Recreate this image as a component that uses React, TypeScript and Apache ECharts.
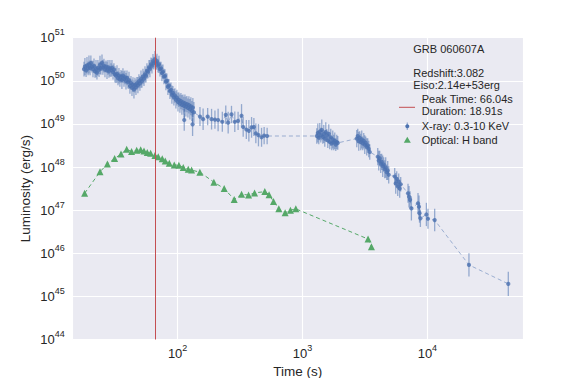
import React, { useEffect, useRef } from 'react';
import * as echarts from 'echarts';

const FONT = '"Liberation Sans", Arial, Helvetica, sans-serif';
const TEXT = '#262626';
const BLUE = '#4C72B0';
const GREEN = '#55A868';
const RED = '#C44E52';

const grbName = 'GRB 060607A';
const redshift = 3.082;
const eisoText = '2.14e+53erg';
const peakTime = 66.04;
const duration = 18.91;

// X-ray (0.3-10 keV): time (s), log10 luminosity (erg/s), 1-sigma error (dex)
const xrayTime = [
  17.8, 18.1, 18.5, 18.8, 19.2, 19.5, 19.9, 20.2, 20.6, 21.0,
  21.4, 21.8, 22.2, 22.6, 23.0, 23.5, 23.9, 24.3, 24.8, 25.2,
  25.7, 26.2, 26.7, 27.2, 27.7, 28.2, 28.7, 29.3, 29.8, 30.4,
  30.9, 31.5, 32.1, 32.7, 33.3, 33.9, 34.5, 35.2, 35.8, 36.5,
  37.2, 37.9, 38.6, 39.3, 40.0, 40.8, 41.5, 42.3, 43.1, 43.9,
  44.7, 45.5, 46.4, 47.2, 48.1, 49.0, 49.9, 50.9, 51.8, 52.8,
  53.8, 54.8, 55.8, 56.8, 57.9, 59.0, 60.0, 61.2, 62.3, 63.5,
  64.6, 65.9, 67.1, 68.3, 69.6, 70.9, 72.2, 73.6, 74.9, 76.3,
  77.7, 79.2, 80.6, 82.1, 83.6, 85.2, 86.8, 88.4, 90.0, 91.7,
  93.4, 95.1, 96.9, 98.7, 100.6, 102.4, 104.3, 106.3, 108.2, 110.3,
  112.3, 113.0, 114.4, 116.5, 118.7, 120.9, 123.1, 125.4, 127.7, 130.1,
  131.8, 132.5, 135.0,
  151, 160, 174, 187, 199, 211, 228, 243, 254, 270, 287, 305, 325, 335, 355, 372, 391, 408, 423, 444, 470, 493, 521,
  1301, 1326, 1350, 1375, 1401, 1427, 1453, 1480, 1508, 1536, 1564, 1594, 1623, 1653, 1684, 1715, 1747, 1780, 1813, 1847, 1881, 1916,
  2719, 2770, 2821, 2873, 2927, 2981, 3037, 3093, 3151, 3209, 3269, 3330, 3392, 3455,
  4004, 4078, 4153, 4230, 4309, 4389, 4471, 4554, 4638, 4725, 4813, 4902,
  5474, 5577, 5682, 5788, 5897, 6002, 6115,
  6997, 7128, 7261, 7447, 8412, 8569, 8648, 8790, 9817, 10111, 11440, 21520, 44460,
];

const xrayLogLum = [
  50.27, 50.33, 50.24, 50.36, 50.29, 50.38, 50.30, 50.41, 50.33, 50.27,
  50.35, 50.22, 50.28, 50.19, 50.30, 50.26, 50.37, 50.29, 50.42, 50.31,
  50.35, 50.26, 50.33, 50.24, 50.31, 50.22, 50.29, 50.25, 50.30, 50.20,
  50.26, 50.15, 50.12, 50.16, 50.06, 50.12, 50.03, 50.10, 50.02, 50.12,
  50.04, 50.08, 49.99, 50.07, 49.97, 50.01, 49.88, 49.95, 49.84, 49.91,
  49.80, 49.90, 49.85, 49.94, 49.90, 49.99, 49.94, 50.04, 49.99, 50.10,
  50.05, 50.15, 50.12, 50.23, 50.21, 50.31, 50.28, 50.38, 50.35, 50.45,
  50.41, 50.50, 50.42, 50.45, 50.35, 50.38, 50.27, 50.29, 50.18, 50.21,
  50.10, 50.11, 49.98, 50.00, 49.86, 49.89, 49.76, 49.79, 49.68, 49.72,
  49.62, 49.66, 49.56, 49.61, 49.51, 49.56, 49.47, 49.53, 49.44, 49.50,
  49.42, 49.09, 49.48, 49.40, 49.46, 49.37, 49.44, 49.34, 49.41, 49.30,
  48.99, 49.38, 49.27,
  49.17, 49.11, 49.17, 49.11, 49.10, 49.09, 49.05, 49.21, 49.03, 49.22, 49.05, 49.07, 49.19, 48.93, 48.87, 48.84, 48.92, 48.93, 48.78, 48.74, 48.69, 48.73, 48.72,
  48.72, 48.79, 48.68, 48.82, 48.74, 48.86, 48.70, 48.77, 48.66, 48.81, 48.73, 48.62, 48.77, 48.58, 48.69, 48.55, 48.64, 48.57, 48.61, 48.52, 48.58, 48.56,
  48.66, 48.72, 48.60, 48.68, 48.58, 48.64, 48.55, 48.61, 48.52, 48.56, 48.47, 48.50, 48.42, 48.35,
  48.24, 48.15, 48.20, 48.08, 48.12, 48.02, 48.06, 47.95, 47.99, 47.88, 47.92, 47.82,
  47.78, 47.62, 47.72, 47.55, 47.66, 47.50, 47.60,
  47.39, 47.31, 47.24, 47.04, 47.16, 47.08, 46.93, 46.81, 46.90, 46.80, 46.77, 45.73, 45.29,
];

const xrayErrDex = [
  0.17, 0.20, 0.15, 0.19, 0.16, 0.21, 0.17, 0.18, 0.14, 0.19,
  0.17, 0.15, 0.20, 0.16, 0.18, 0.17, 0.21, 0.15, 0.19, 0.17,
  0.16, 0.18, 0.14, 0.20, 0.17, 0.15, 0.19, 0.16, 0.18, 0.17,
  0.15, 0.19, 0.17, 0.20, 0.16, 0.18, 0.17, 0.15, 0.21, 0.17,
  0.18, 0.16, 0.19, 0.17, 0.15, 0.20, 0.18, 0.16, 0.19, 0.17,
  0.21, 0.17, 0.18, 0.15, 0.19, 0.16, 0.17, 0.20, 0.15, 0.18,
  0.17, 0.19, 0.16, 0.18, 0.15, 0.17, 0.20, 0.16, 0.18, 0.17,
  0.15, 0.19, 0.17, 0.18, 0.16, 0.20, 0.17, 0.15, 0.19, 0.17,
  0.18, 0.16, 0.20, 0.17, 0.19, 0.15, 0.18, 0.17, 0.21, 0.16,
  0.19, 0.17, 0.20, 0.18, 0.22, 0.17, 0.21, 0.19, 0.23, 0.18,
  0.21, 0.25, 0.20, 0.23, 0.19, 0.22, 0.20, 0.24, 0.21, 0.23,
  0.27, 0.22, 0.24,
  0.22, 0.25, 0.20, 0.24, 0.21, 0.26, 0.23, 0.22, 0.25, 0.20, 0.24, 0.21, 0.27, 0.23, 0.22, 0.25, 0.24, 0.21, 0.23, 0.26, 0.22, 0.20, 0.19,
  0.18, 0.22, 0.15, 0.20, 0.17, 0.24, 0.16, 0.21, 0.19, 0.23, 0.15, 0.18, 0.22, 0.17, 0.20, 0.16, 0.21, 0.18, 0.19, 0.15, 0.17, 0.16,
  0.20, 0.17, 0.22, 0.15, 0.19, 0.21, 0.16, 0.18, 0.22, 0.15, 0.20, 0.17, 0.19, 0.18,
  0.20, 0.23, 0.18, 0.22, 0.19, 0.25, 0.17, 0.21, 0.24, 0.18, 0.22, 0.20,
  0.20, 0.24, 0.18, 0.22, 0.19, 0.21, 0.17,
  0.22, 0.25, 0.20, 0.28, 0.24, 0.26, 0.22, 0.20, 0.27, 0.23, 0.26, 0.27, 0.28,
];

// Optical H band
const opticalTime = [
  18.0, 23.9, 27.4, 31.3, 35.2, 39.1, 42.8, 47.0, 50.6, 53.8, 57.1, 60.8, 65.8, 70.0, 75.3, 79.6,
  85.8, 94.0, 102.4, 110.9, 121.6, 129.4, 150.8, 195.2, 236.0, 283.8, 325, 369.8, 413, 499, 540,
  586, 646, 726, 801, 884, 3350, 3565,
];
const opticalLogLum = [
  47.39, 47.89, 48.07, 48.20, 48.30, 48.41, 48.36, 48.39, 48.40, 48.37, 48.34, 48.32, 48.27, 48.24, 48.19, 48.14,
  48.09, 48.05, 48.04, 47.99, 47.95, 47.93, 47.88, 47.65, 47.50, 47.25, 47.37, 47.35, 47.40, 47.43, 47.36,
  47.20, 47.03, 46.94, 47.00, 47.03, 46.33, 46.15,
];

const xMin = 14.45;
const xMax = 58300;
const yMin = 1e44;
const yMax = 1e51;

const powLabel = (v: number) => {
  const e = Math.log10(v);
  const r = Math.round(e);
  if (Math.abs(e - r) > 1e-6) return '';
  return `{b|10}{s|${r}}`;
};

const richPow = {
  b: { fontSize: 13, fontFamily: FONT, color: TEXT, lineHeight: 20 },
  s: { fontSize: 9, fontFamily: FONT, color: TEXT, lineHeight: 9, verticalAlign: 'top' },
};

export default function App() {
  const ref = useRef<HTMLDivElement>(null);
  useEffect(() => {
    document.body.style.margin = '0';
    const chart = echarts.init(ref.current!, null, { renderer: 'svg' });

    const n = Math.min(xrayTime.length, xrayLogLum.length, xrayErrDex.length);
    const xrayPts: number[][] = [];
    const xrayBars: number[][] = [];
    for (let i = 0; i < n; i++) {
      const l = xrayLogLum[i];
      const e = xrayErrDex[i];
      xrayPts.push([xrayTime[i], Math.pow(10, l)]);
      xrayBars.push([xrayTime[i], Math.pow(10, l - e), Math.pow(10, l + e)]);
    }
    const optPts = opticalTime.map((t, i) => [t, Math.pow(10, opticalLogLum[i])]);

    const legendText = (text: string, x: number, y: number) => ({
      type: 'text',
      x,
      y,
      silent: true,
      style: { text, fontSize: 11, fontFamily: FONT, fill: TEXT, align: 'left', verticalAlign: 'middle' },
      z: 100,
    });

    const option: any = {
      animation: false,
      backgroundColor: '#ffffff',
      grid: {
        left: 72.7,
        top: 37.7,
        width: 450.3,
        height: 301.8,
        show: true,
        backgroundColor: '#EAEAF2',
        borderWidth: 0,
      },
      xAxis: {
        type: 'log',
        logBase: 10,
        min: xMin,
        max: xMax,
        axisLine: { show: false },
        axisTick: { show: false },
        minorTick: { show: false },
        splitLine: { show: true, lineStyle: { color: '#ffffff', width: 1.1 } },
        axisLabel: {
          formatter: powLabel,
          rich: richPow,
          margin: 4,
          showMinLabel: false,
          showMaxLabel: false,
        },
      },
      yAxis: {
        type: 'log',
        logBase: 10,
        min: yMin,
        max: yMax,
        axisLine: { show: false },
        axisTick: { show: false },
        minorTick: { show: false },
        splitLine: { show: true, lineStyle: { color: '#ffffff', width: 1.1 } },
        axisLabel: {
          formatter: powLabel,
          rich: richPow,
          margin: 8,
        },
      },
      series: [
        {
          type: 'line',
          data: xrayPts,
          showSymbol: false,
          symbol: 'none',
          silent: true,
          lineStyle: { color: BLUE, opacity: 0.5, width: 1, type: [4, 3] },
          z: 1,
        },
        {
          type: 'custom',
          data: xrayBars,
          encode: { x: 0, y: [1, 2] },
          silent: true,
          renderItem: (_params: any, api: any) => {
            const p1 = api.coord([api.value(0), api.value(1)]);
            const p2 = api.coord([api.value(0), api.value(2)]);
            return {
              type: 'line',
              shape: { x1: p1[0], y1: p1[1], x2: p2[0], y2: p2[1] },
              style: { stroke: 'rgba(76,114,176,0.55)', lineWidth: 1.3 },
            };
          },
          z: 2,
        },
        {
          type: 'scatter',
          data: xrayPts,
          symbol: 'circle',
          symbolSize: 4.2,
          silent: true,
          itemStyle: { color: BLUE },
          z: 3,
        },
        {
          type: 'line',
          data: optPts,
          symbol: 'triangle',
          symbolSize: 7,
          showSymbol: true,
          silent: true,
          itemStyle: { color: GREEN },
          lineStyle: { color: GREEN, width: 1, type: [4, 3] },
          z: 4,
          markLine: {
            silent: true,
            symbol: ['none', 'none'],
            label: { show: false },
            lineStyle: { color: RED, width: 1, type: 'solid' },
            data: [{ xAxis: peakTime }],
            z: 10,
          },
        },
      ],
      graphic: [
        {
          type: 'text',
          x: 25,
          y: 188.6,
          rotation: Math.PI / 2,
          silent: true,
          style: { text: 'Luminosity (erg/s)', fontSize: 13.5, fontFamily: FONT, fill: TEXT, align: 'center', verticalAlign: 'middle' },
        },
        {
          type: 'text',
          x: 297.8,
          y: 371.5,
          silent: true,
          style: { text: 'Time (s)', fontSize: 13.5, fontFamily: FONT, fill: TEXT, align: 'center', verticalAlign: 'middle' },
        },
        legendText(grbName, 413.3, 49),
        legendText(`Redshift:${redshift}`, 413.3, 72.7),
        legendText(`Eiso:${eisoText}`, 413.3, 85),
        legendText(`Peak Time: ${peakTime}s`, 421.7, 99.3),
        legendText(`Duration: ${duration}s`, 421.7, 111),
        legendText('X-ray: 0.3-10 KeV', 421.7, 126.3),
        legendText('Optical: H band', 421.7, 140),
        {
          type: 'line',
          silent: true,
          shape: { x1: 399, y1: 107.3, x2: 415, y2: 107.3 },
          style: { stroke: RED, lineWidth: 1 },
          z: 100,
        },
        {
          type: 'line',
          silent: true,
          shape: { x1: 407.3, y1: 122.5, x2: 407.3, y2: 130.1 },
          style: { stroke: 'rgba(76,114,176,0.55)', lineWidth: 1.2 },
          z: 100,
        },
        {
          type: 'circle',
          silent: true,
          shape: { cx: 407.3, cy: 126.3, r: 2 },
          style: { fill: BLUE },
          z: 101,
        },
        {
          type: 'polygon',
          silent: true,
          shape: { points: [[407.3, 136.8], [403.8, 142.8], [410.8, 142.8]] },
          style: { fill: GREEN },
          z: 100,
        },
      ],
    };

    chart.setOption(option);
    return () => chart.dispose();
  }, []);

  return <div ref={ref} style={{ position: 'absolute', left: 0, top: 0, width: 581, height: 378 }} />;
}
